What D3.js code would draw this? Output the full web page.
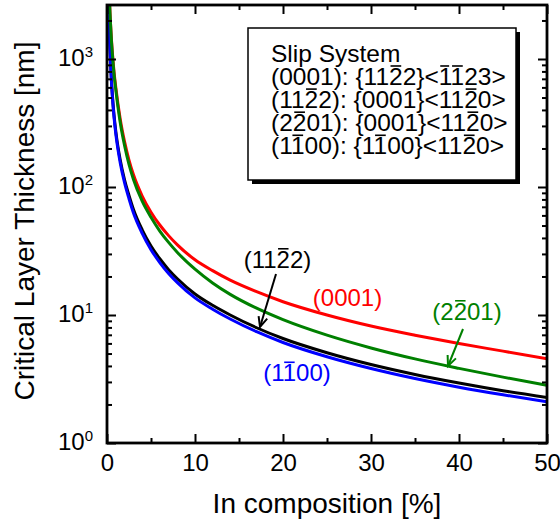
<!DOCTYPE html>
<html>
<head>
<meta charset="utf-8">
<script src="https://cdn.jsdelivr.net/npm/d3@7"></script>
<style>
  body { margin: 0; background: #fff; }
  svg { display: block; font-family: "Liberation Sans", Arial, sans-serif; }
</style>
</head>
<body>
<svg id="chart" width="560" height="525"></svg>
<script>
// In composition [%]
var comp = [0.1, 0.2, 0.3, 0.4, 0.5, 0.6, 0.8, 1, 1.5, 2, 2.5, 3, 4, 5, 6, 7, 8, 10, 12, 14, 17, 20, 25, 30, 35, 40, 45, 50];

// critical layer thickness [nm]
var h0001 = [9300, 4700, 2700, 1900, 1440, 1150, 794, 600, 340, 225, 162, 125, 85, 63.6, 50.5, 41.7, 35.3, 27.0, 22.2, 18.7, 15.2, 12.7, 10.0, 8.2, 6.95, 5.98, 5.22, 4.55];
var h2201 = [9000, 4500, 2670, 1875, 1400, 1117, 762, 575, 320, 210, 150, 115, 77.5, 58, 45.3, 36.9, 30.8, 22.8, 17.8, 14.5, 11.3, 9.2, 6.96, 5.53, 4.54, 3.83, 3.27, 2.82];
var h1122 = [5300, 2550, 1440, 955, 695, 537, 365, 272, 163, 113, 86, 67, 46.3, 34.6, 27.5, 22.6, 19.2, 14.6, 11.9, 10.0, 7.95, 6.55, 5.07, 4.1, 3.43, 2.94, 2.56, 2.27];
var h1100 = [5200, 2500, 1400, 925, 670, 517, 350, 260, 155, 107.5, 81, 63, 43.5, 32.4, 25.7, 21.1, 17.9, 13.6, 11.1, 9.3, 7.4, 6.1, 4.72, 3.82, 3.19, 2.73, 2.38, 2.1];

var xMajor = [0, 10, 20, 30, 40, 50];
var xMinor = [5, 15, 25, 35, 45];
var yDecades = [0, 1, 2, 3];

// "~" marks a barred digit
var legendLines = ["Slip System",
    "(0001): {11~22}<~1~123>",
    "(11~22): {0001}<11~20>",
    "(2~201): {0001}<11~20>",
    "(1~100): {1~100}<11~20>"];

var series = [
    {name: "(0001)", color: "#ff0000", values: h0001},
    {name: "(11~22)", color: "#000000", values: h1122},
    {name: "(1~100)", color: "#0000ff", values: h1100},
    {name: "(2~201)", color: "#008000", values: h2201}
];

var svg = d3.select("#chart");
var plotL = 107, plotR = 547, plotT = 5, plotB = 443;

var x = d3.scaleLinear().domain([0, 50]).range([plotL, plotR]);
// one decade is 128px, 10^0 on the bottom edge
var y = d3.scaleLog().domain([1, Math.pow(10, (plotB - plotT) / 128)]).range([plotB, plotT]);

svg.append("clipPath").attr("id", "plotclip")
    .append("rect").attr("x", plotL).attr("y", plotT)
    .attr("width", plotR - plotL).attr("height", plotB - plotT);

// barred text: draws the string, then a short bar over each marked char
function barText(g, tx, ty, str, size, color, anchor)
{
    var plain = "", bars = [];
    for (var i = 0; i < str.length; i++) {
        if (str[i] === "~") { bars.push(plain.length); continue; }
        plain += str[i];
    }
    var t = g.append("text")
        .attr("x", tx).attr("y", ty)
        .attr("font-size", size)
        .attr("fill", color)
        .attr("text-anchor", anchor || "start")
        .text(plain);
    var node = t.node();
    bars.forEach(function(idx) {
        var ext = node.getExtentOfChar(idx);
        var by = ty - size * 0.78;
        g.append("line")
            .attr("x1", ext.x + size * 0.06).attr("x2", ext.x + ext.width - size * 0.06)
            .attr("y1", by).attr("y2", by)
            .attr("stroke", color).attr("stroke-width", 1.6);
    });
    return t;
}

// curves
var line = d3.line()
    .x(function(d) { return x(d[0]); })
    .y(function(d) { return y(d[1]); })
    .curve(d3.curveMonotoneX);

var curves = svg.append("g").attr("clip-path", "url(#plotclip)");
series.forEach(function(s) {
    curves.append("path")
        .datum(comp.map(function(c, i) { return [c, s.values[i]]; }))
        .attr("d", line)
        .attr("fill", "none")
        .attr("stroke", s.color)
        .attr("stroke-width", 3);
});

// ticks, all pointing inward
function addAxis(axis, tx, ty)
{
    var g = svg.append("g").attr("transform", "translate(" + tx + "," + ty + ")").call(axis);
    g.select(".domain").remove();
    g.selectAll(".tick line").attr("stroke", "#000").attr("stroke-width", 2);
    return g;
}

addAxis(d3.axisBottom(x).tickValues(xMajor).tickSize(-9).tickPadding(11).tickFormat(d3.format("d")), 0, plotB)
    .selectAll("text").attr("font-size", 24).attr("fill", "#000")
    .attr("font-family", "Liberation Sans, Arial, sans-serif");
addAxis(d3.axisBottom(x).tickValues(xMinor).tickSize(-5).tickFormat(""), 0, plotB);
addAxis(d3.axisTop(x).tickValues(xMajor).tickSize(-9).tickFormat(""), 0, plotT);
addAxis(d3.axisTop(x).tickValues(xMinor).tickSize(-5).tickFormat(""), 0, plotT);

var yMajor = yDecades.map(function(p) { return Math.pow(10, p); });
var yMinor = [];
yDecades.forEach(function(p) {
    for (var k = 2; k <= 9; k++) {
        var v = k * Math.pow(10, p);
        if (v <= y.domain()[1]) yMinor.push(v);
    }
});

addAxis(d3.axisLeft(y).tickValues(yMajor).tickSize(-9).tickFormat(""), plotL, 0);
addAxis(d3.axisLeft(y).tickValues(yMinor).tickSize(-5).tickFormat(""), plotL, 0);
addAxis(d3.axisRight(y).tickValues(yMajor).tickSize(-9).tickFormat(""), plotR, 0);
addAxis(d3.axisRight(y).tickValues(yMinor).tickSize(-5).tickFormat(""), plotR, 0);

// y tick labels 10^n
var yLab = svg.append("g");
yDecades.forEach(function(p) {
    var t = yLab.append("text")
        .attr("x", 93).attr("y", y(Math.pow(10, p)) + 6.5)
        .attr("text-anchor", "end")
        .attr("font-size", 24);
    t.append("tspan").text("10");
    t.append("tspan").attr("font-size", 15).attr("dy", -9).text(p);
});

// frame
svg.append("rect")
    .attr("x", plotL).attr("y", plotT)
    .attr("width", plotR - plotL).attr("height", plotB - plotT)
    .attr("fill", "none").attr("stroke", "#000").attr("stroke-width", 2.8);

// axis titles
svg.append("text")
    .attr("x", (plotL + plotR) / 2).attr("y", 513)
    .attr("text-anchor", "middle").attr("font-size", 28)
    .text("In composition [%]");
svg.append("text")
    .attr("transform", "translate(34," + ((plotT + plotB) / 2 - 3) + ") rotate(-90)")
    .attr("text-anchor", "middle").attr("font-size", 28)
    .text("Critical Layer Thickness [nm]");

// legend box with drop shadow
var leg = svg.append("g");
leg.append("rect").attr("x", 252).attr("y", 32).attr("width", 268).attr("height", 152).attr("fill", "#000");
leg.append("rect").attr("x", 248).attr("y", 28).attr("width", 268).attr("height", 152)
    .attr("fill", "#fff").attr("stroke", "#000").attr("stroke-width", 1.5);
legendLines.forEach(function(s, i) {
    barText(leg, 271, 62 + i * 23.1, s, 24.5, "#000");
});

// curve labels and arrows
var ann = svg.append("g");
barText(ann, 347.5, 305.5, "(0001)", 24, "#ff0000", "middle");
barText(ann, 467, 319.5, "(2~201)", 24, "#008000", "middle");
barText(ann, 277.5, 267.5, "(11~22)", 24, "#000000", "middle");
barText(ann, 297, 381, "(1~100)", 24, "#0000ff", "middle");

function arrow(g, x1, y1, x2, y2, color)
{
    var a = Math.atan2(y2 - y1, x2 - x1), len = 11, spread = 0.42;
    g.append("line").attr("x1", x1).attr("y1", y1).attr("x2", x2).attr("y2", y2)
        .attr("stroke", color).attr("stroke-width", 2);
    var pts = [[x2 - len * Math.cos(a - spread), y2 - len * Math.sin(a - spread)],
               [x2, y2],
               [x2 - len * Math.cos(a + spread), y2 - len * Math.sin(a + spread)]];
    g.append("path").attr("d", d3.line()(pts))
        .attr("fill", "none").attr("stroke", color).attr("stroke-width", 2);
}
arrow(ann, 276, 274, 260, 327, "#000000");
arrow(ann, 463, 329, 448, 366, "#008000");
</script>
</body>
</html>
